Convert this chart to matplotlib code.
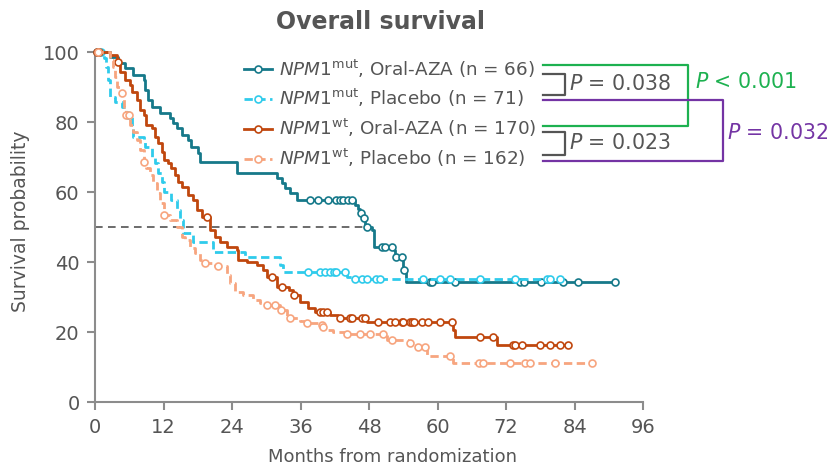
import numpy as np
import matplotlib
matplotlib.use("Agg")
import matplotlib.pyplot as plt
from matplotlib.lines import Line2D

plt.rcParams['font.family'] = ['DejaVu Sans']
plt.rcParams['mathtext.fontset'] = 'custom'
plt.rcParams['mathtext.rm'] = 'DejaVu Sans'
plt.rcParams['mathtext.it'] = 'DejaVu Sans:italic'

# ---------------- data ----------------
# NPM1 mut, Oral-AZA
mut_aza_t = [0, 2.6, 4.0, 5.3, 6.7, 8.5, 8.8, 9.3, 9.9, 11.4, 13.1, 13.7, 14.3, 15.2, 16.3, 16.9,
             18.1, 18.4, 24.8, 31.8, 32.7, 33.3, 34.2, 35.3, 45.5, 46.1, 46.4, 47.0, 47.3, 48.5,
             48.8, 52.3, 52.6, 54.0, 54.4]
mut_aza_s = [100, 98.6, 96.9, 95.4, 93.5, 92.0, 89.2, 86.4, 84.5, 82.6, 81.1, 79.7, 78.3, 76.4, 74.9, 73.0,
             71.1, 68.6, 65.6, 64.0, 62.6, 61.1, 59.7, 57.8, 56.4, 55.1, 54.2, 52.6, 50.0, 49.2,
             44.5, 43.5, 41.6, 37.8, 34.4]
mut_aza_end = 91.1
mut_aza_cens = [0.4, 37.7, 39.1, 40.9, 42.3, 42.9, 43.5, 44.4, 45.0, 46.6, 47.2, 47.6, 50.2, 50.8, 52.0,
                52.8, 53.7, 54.2, 58.7, 59.0, 63.1, 74.5, 75.1, 78.2, 82.0, 84.7, 91.1]

# NPM1 mut, Placebo
mut_pbo_t = [0, 1.5, 2.0, 2.3, 2.6, 3.5, 4.7, 5.5, 6.4, 6.7, 8.5, 8.8, 9.9, 10.5, 11.1, 11.7, 12.0,
             13.4, 14.3, 14.9, 15.5, 17.2, 20.7, 26.3, 32.4, 33.0, 44.1, 45.2]
mut_pbo_s = [100, 98.3, 95.9, 92.0, 87.3, 85.9, 84.5, 82.1, 78.7, 75.9, 74.9, 73.0, 70.2, 68.3, 65.4, 63.0, 60.2,
             57.8, 54.9, 52.1, 48.3, 45.9, 43.0, 41.6, 39.2, 37.3, 35.9, 35.2]
mut_pbo_end = 81.5
mut_pbo_cens = [1.0, 5.8, 37.4, 39.4, 40.3, 41.2, 41.8, 42.3, 43.8, 45.6, 46.7, 47.6, 49.3, 49.9, 57.5,
                60.4, 62.2, 67.4, 73.6, 79.1, 79.7, 81.5]

# NPM1 wt, Oral-AZA
wt_aza_t = [0, 2.6, 3.8, 4.4, 5.3, 6.1, 6.4, 7.3, 7.9, 8.5, 9.0, 9.9, 10.5, 11.1, 11.7, 12.0, 12.8, 13.4,
            14.0, 14.6, 15.2, 16.3, 17.2, 17.8, 18.7, 20.1, 21.0, 21.9, 23.1, 24.8, 25.1, 26.6, 28.3,
            29.5, 30.1, 31.8, 33.9, 34.7, 35.9, 37.4, 38.5, 41.2, 42.6, 47.6, 62.8, 63.1, 70.4]
wt_aza_s = [100, 99.2, 97.3, 94.5, 92.1, 90.7, 88.7, 86.4, 83.5, 82.1, 79.2, 78.3, 75.9, 74.0, 71.6, 69.2, 68.3, 66.9,
            64.9, 63.0, 61.6, 59.2, 57.8, 54.9, 53.0, 49.2, 47.3, 45.9, 44.5, 43.5, 40.7, 40.2, 39.2,
            37.8, 35.9, 33.0, 32.1, 30.7, 28.7, 26.9, 25.9, 24.9, 24.0, 23.0, 20.7, 18.7, 16.4]
wt_aza_end = 82.9
wt_aza_cens = [0.3, 0.7, 4.1, 19.6, 31.0, 32.7, 34.9, 39.4, 40.0, 40.6, 42.9, 44.7, 45.0, 46.7, 47.3, 49.6,
               51.7, 52.6, 53.7, 54.0, 55.2, 55.5, 55.8, 57.2, 58.4, 60.4, 62.5, 67.4, 69.8, 73.3, 73.6,
               74.8, 78.0, 79.7, 81.5, 82.9]

# NPM1 wt, Placebo
wt_pbo_t = [0, 2.6, 3.2, 3.5, 3.8, 4.4, 5.0, 5.5, 6.1, 6.7, 7.3, 7.9, 8.5, 9.0, 9.6, 10.2, 10.8, 11.4,
            12.0, 13.1, 14.3, 15.2, 15.8, 16.6, 17.5, 18.4, 19.0, 21.0, 23.1, 23.7, 24.5, 26.0, 27.7,
            28.9, 29.8, 32.4, 33.6, 35.9, 37.1, 39.1, 39.8, 40.3, 41.7, 43.8, 51.1, 54.8, 56.3, 58.1, 62.8]
wt_pbo_s = [100, 97.8, 95.9, 93.0, 90.2, 88.3, 84.5, 82.1, 79.2, 77.3, 74.9, 72.1, 68.7, 66.9, 64.9, 62.6, 59.7, 56.9,
            53.5, 52.1, 50.2, 47.3, 46.4, 44.0, 42.6, 40.7, 39.7, 39.0, 36.4, 34.0, 31.6, 30.7, 29.2,
            28.3, 27.8, 26.4, 24.0, 23.3, 22.6, 22.1, 21.5, 20.7, 20.2, 19.4, 17.8, 17.0, 15.9, 13.2, 11.3]
wt_pbo_end = 87.0
wt_pbo_cens = [0.6, 4.8, 5.5, 6.0, 8.5, 12.0, 19.3, 21.6, 30.1, 31.5, 32.6, 34.2, 37.1, 39.7, 40.0, 44.1,
               46.4, 48.2, 50.5, 52.0, 55.2, 56.6, 57.8, 62.2, 67.2, 68.0, 72.7, 75.3, 76.2, 80.6, 87.0]

labels = [r"$\mathit{NPM1}^{\mathrm{mut}}$, Oral-AZA (n = 66)",
          r"$\mathit{NPM1}^{\mathrm{mut}}$, Placebo (n = 71)",
          r"$\mathit{NPM1}^{\mathrm{wt}}$, Oral-AZA (n = 170)",
          r"$\mathit{NPM1}^{\mathrm{wt}}$, Placebo (n = 162)"]

median_line = 50
median_end = 47.5

p_labels = ["P = 0.038", "P = 0.023", "P < 0.001", "P = 0.032"]

# ---------------- styles ----------------
colors = ['#16798a', '#2fcbeb', '#c0470e', '#f7a57f']
dashed = [False, True, False, True]
grey_txt = '#555555'
grey_ax = '#8c8c8c'
green = '#1db150'
purple = '#7434a4'

curves = [(mut_aza_t, mut_aza_s, mut_aza_end, mut_aza_cens),
          (mut_pbo_t, mut_pbo_s, mut_pbo_end, mut_pbo_cens),
          (wt_aza_t, wt_aza_s, wt_aza_end, wt_aza_cens),
          (wt_pbo_t, wt_pbo_s, wt_pbo_end, wt_pbo_cens)]

W, H = 836, 469
fig = plt.figure(figsize=(W / 100, H / 100), dpi=100)
ax = fig.add_axes([95 / W, 1 - 402.3 / H, 548 / W, 350 / H])

ax.plot([0, median_end], [median_line, median_line], color='#444444', lw=1.1,
        dashes=(5, 3.5), zorder=1)

handles = []
for i in [3, 1, 2, 0]:
    t, s, end, cens = curves[i]
    t = np.array(t)
    s = np.array(s)
    tt = np.append(t, end)
    ss = np.append(s, s[-1])
    ls = '--' if dashed[i] else '-'
    line, = ax.step(tt, ss, where='post', color=colors[i], lw=2.0, ls=ls, clip_on=False,
                    zorder=2 + i)
    if dashed[i]:
        line.set_dashes((3, 1.6))
    cens = np.array(cens)
    idx = np.searchsorted(t, cens, side='right') - 1
    ax.plot(cens, s[idx], 'o', ms=5, mfc='white', mec=colors[i], mew=1.2, ls='none',
            clip_on=False, zorder=2 + i)

for i in range(4):
    h = Line2D([0], [0], color=colors[i], lw=2.0, ls='--' if dashed[i] else '-',
               marker='o', ms=5, mfc='white', mec=colors[i], mew=1.2)
    if dashed[i]:
        h.set_dashes((3, 1.6))
    handles.append(h)

leg = ax.legend(handles, labels, loc='upper left', bbox_to_anchor=(0.258, 1.006), frameon=False,
                fontsize=13.2, handlelength=1.55, handletextpad=0.4, labelspacing=0.42,
                numpoints=1, borderaxespad=0)
for txt in leg.get_texts():
    txt.set_color(grey_txt)

ax.set_xlim(0, 96)
ax.set_ylim(0, 100)
ax.set_xticks(np.arange(0, 97, 12))
ax.set_yticks(np.arange(0, 101, 20))
for sp in ['top', 'right']:
    ax.spines[sp].set_visible(False)
for sp in ['left', 'bottom']:
    ax.spines[sp].set_color(grey_ax)
    ax.spines[sp].set_linewidth(1.5)
ax.tick_params(colors=grey_ax, labelcolor=grey_txt, labelsize=14, width=1.5, length=6, pad=5)
ax.set_xlabel('Months from randomization', fontsize=13, color=grey_txt)
ax.set_ylabel('Survival probability', fontsize=13.5, color=grey_txt)
ax.xaxis.set_label_coords((393 - 95) / 548, -(457 - 402.3) / 350)
ax.yaxis.set_label_coords(-(95 - 21) / 548, (402.3 - 221) / 350)
ax.xaxis.label.set_va('center')
ax.yaxis.label.set_va('center')

fig.text(381 / W, 1 - 22 / H, 'Overall survival', ha='center', va='center', fontsize=17,
         fontweight='bold', color=grey_txt)

# overlay in pixel coords for the comparison brackets
ov = fig.add_axes([0, 0, 1, 1], facecolor='none')
ov.set_xlim(0, W)
ov.set_ylim(H, 0)
ov.axis('off')

ov.plot([543, 565, 565, 543], [74, 74, 95, 95], color=grey_txt, lw=1.6)
ov.plot([543, 565, 565, 543], [132, 132, 155, 155], color=grey_txt, lw=1.6)
ov.plot([543, 688, 688, 543], [65, 65, 126, 126], color=green, lw=1.6)
ov.plot([543, 723, 723, 543], [100, 100, 161.5, 161.5], color=purple, lw=1.6)

def ptext(x, y, s, c):
    sym, rest = s.split(' ', 1)
    ov.text(x, y, r"$\mathit{P}$ " + rest, fontsize=14.8, color=c, va='center', ha='left')

ptext(569, 84, p_labels[0], grey_txt)
ptext(569, 143, p_labels[1], grey_txt)
ptext(695, 82, p_labels[2], green)
ptext(727, 133, p_labels[3], purple)

fig.savefig('out.png', dpi=100)
